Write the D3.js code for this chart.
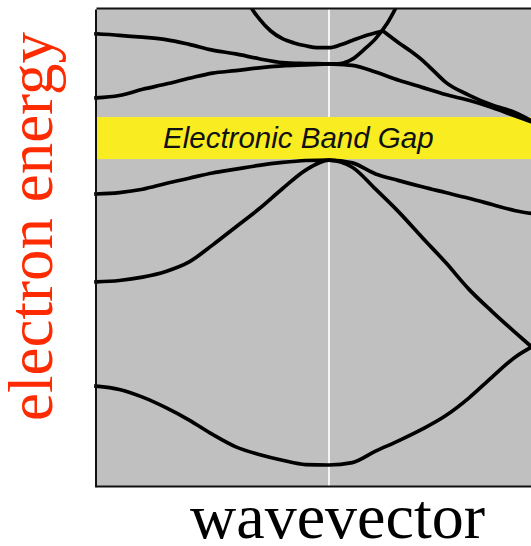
<!DOCTYPE html>
<html>
<head>
<meta charset="utf-8">
<script src="https://cdn.jsdelivr.net/npm/d3@7"></script>
<style>
  html, body { margin: 0; padding: 0; background: #fff; }
  svg { display: block; }
</style>
</head>
<body>
<svg id="chart" width="531" height="546"></svg>
<script>
// Wavevector grid (Brillouin-zone units, 0 = zone centre) shared by the full-width bands
const kGrid = [-1, -0.9, -0.8, -0.7, -0.6, -0.5, -0.4, -0.3, -0.2, -0.1, 0,
               0.1, 0.2, 0.3, 0.4, 0.5, 0.6, 0.7, 0.8, 0.87];

// Electron energies (arbitrary units) of each band along kGrid
const bandLowest  = [2.11, 2.04, 1.88, 1.66, 1.40, 1.10, 0.84, 0.68, 0.56, 0.47, 0.46,
                     0.51, 0.75, 0.97, 1.21, 1.49, 1.86, 2.30, 2.72, 2.93];
const bandSecond  = [4.29, 4.32, 4.39, 4.51, 4.71, 5.06, 5.44, 5.82, 6.24, 6.63, 6.84,
                     6.69, 6.23, 5.75, 5.22, 4.70, 4.14, 3.67, 3.23, 2.93];
const bandValence = [6.13, 6.16, 6.23, 6.35, 6.46, 6.57, 6.65, 6.73, 6.79, 6.83, 6.84,
                     6.78, 6.55, 6.41, 6.28, 6.16, 6.04, 5.91, 5.78, 5.72];
const bandUpperA  = [9.48, 9.45, 9.41, 9.36, 9.26, 9.14, 9.06, 8.96, 8.88, 8.86, 8.85,
                     8.82, 8.68, 8.51, 8.36, 8.21, 8.09, 7.94, 7.76, 7.64];

// Upper band rising out of the zone centre
const kRising = [-1, -0.9, -0.8, -0.7, -0.6, -0.5, -0.4, -0.3, -0.2, -0.1, 0,
                 0.05, 0.1, 0.15, 0.2, 0.25, 0.3];
const bandRising = [8.14, 8.19, 8.32, 8.43, 8.55, 8.66, 8.71, 8.77, 8.81, 8.83, 8.85,
                    8.86, 8.95, 9.15, 9.38, 9.70, 10.15];

// Bowl-shaped band near the top, up to its crossing point
const kBowl = [-0.36, -0.33, -0.3, -0.25, -0.2, -0.15, -0.1, -0.05, 0, 0.05, 0.1, 0.15, 0.2, 0.232];
const bandBowl = [10.3, 10.0, 9.80, 9.54, 9.38, 9.29, 9.23, 9.19, 9.19, 9.25, 9.34, 9.43, 9.50, 9.54];

// Its continuation falling towards the zone edge
const kFalling = [0.232, 0.3, 0.35, 0.4, 0.45, 0.5, 0.6, 0.7, 0.8, 0.87];
const bandFalling = [9.54, 9.29, 9.12, 8.93, 8.70, 8.47, 8.20, 7.99, 7.83, 7.66];

// Energy window of the band gap
const gapRange = [6.86, 7.74];

const bands = [
  { k: kGrid,    e: bandLowest },
  { k: kGrid,    e: bandSecond },
  { k: kGrid,    e: bandValence },
  { k: kGrid,    e: bandUpperA },
  { k: kRising,  e: bandRising },
  { k: kBowl,    e: bandBowl },
  { k: kFalling, e: bandFalling }
];

const svg = d3.select("#chart");
const plot = { left: 96, top: 9, right: 562, bottom: 487 };

const x = d3.scaleLinear().domain([-1, 1]).range([plot.left, plot.right]);
const y = d3.scaleLinear().domain([0, 10]).range([plot.bottom, plot.top]);

svg.append("defs").append("clipPath").attr("id", "plotClip")
  .append("rect")
  .attr("x", plot.left - 4).attr("y", plot.top)
  .attr("width", plot.right - plot.left + 4).attr("height", plot.bottom - plot.top);

// Plot background
svg.append("rect")
  .attr("x", plot.left).attr("y", plot.top)
  .attr("width", plot.right - plot.left).attr("height", plot.bottom - plot.top)
  .attr("fill", "#c0c0c0");

// Zone-centre marker
svg.append("line")
  .attr("x1", x(0)).attr("x2", x(0))
  .attr("y1", plot.top).attr("y2", plot.bottom)
  .attr("stroke", "#f4f4f4").attr("stroke-width", 2);

// Band gap strip
svg.append("rect")
  .attr("x", plot.left).attr("y", y(gapRange[1]))
  .attr("width", plot.right - plot.left)
  .attr("height", y(gapRange[0]) - y(gapRange[1]))
  .attr("fill", "#f9ed22");

svg.append("text")
  .attr("x", plot.left + 67)
  .attr("y", y((gapRange[0] + gapRange[1]) / 2) + 10)
  .attr("font-family", "'Liberation Sans', Arial, sans-serif")
  .attr("font-style", "italic")
  .attr("font-size", 29.5)
  .attr("fill", "#111")
  .text("Electronic Band Gap");

// Bands
const line = d3.line()
  .x(d => x(d[0]))
  .y(d => y(d[1]))
  .curve(d3.curveMonotoneX);

svg.append("g")
  .attr("clip-path", "url(#plotClip)")
  .selectAll("path")
  .data(bands)
  .join("path")
  .attr("d", b => line(b.k.map((k, i) => [k, b.e[i]])))
  .attr("fill", "none")
  .attr("stroke", "#000")
  .attr("stroke-width", 3.7)
  .attr("stroke-linecap", "square")
  .attr("stroke-linejoin", "round");

// Frame drawn with tick-less axes
const frame = svg.append("g").attr("class", "frame");
frame.append("g")
  .attr("transform", `translate(${plot.left - 0.5},0)`)
  .call(d3.axisLeft(y).tickValues([]).tickSizeOuter(0));
frame.append("g")
  .attr("transform", `translate(0,${plot.top - 1})`)
  .call(d3.axisTop(x).tickValues([]).tickSizeOuter(0));
frame.append("g")
  .attr("transform", `translate(0,${plot.bottom - 1})`)
  .call(d3.axisBottom(x).tickValues([]).tickSizeOuter(0));
frame.selectAll(".domain")
  .attr("stroke", "#111")
  .attr("stroke-width", 2);

// Axis titles
svg.append("text")
  .attr("x", 337.5).attr("y", 538)
  .attr("text-anchor", "middle")
  .attr("font-family", "'Liberation Serif', 'Times New Roman', serif")
  .attr("font-size", 64)
  .attr("fill", "#000")
  .text("wavevector");

svg.append("text")
  .attr("transform", "translate(52,226.5) rotate(-90)")
  .attr("text-anchor", "middle")
  .attr("font-family", "'Liberation Serif', 'Times New Roman', serif")
  .attr("font-size", 63)
  .attr("fill", "#ff2b00")
  .text("electron energy");
</script>
</body>
</html>
